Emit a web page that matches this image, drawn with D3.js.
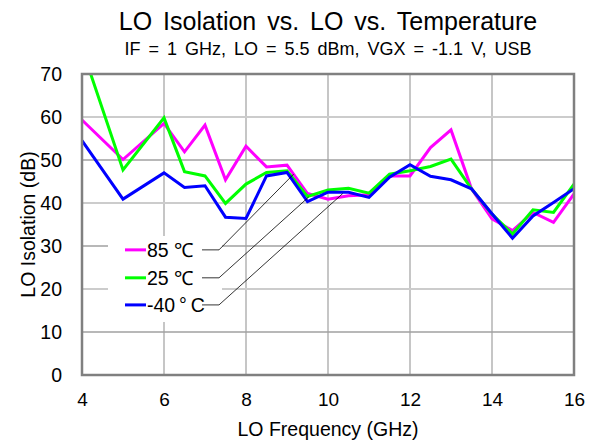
<!DOCTYPE html>
<html>
<head>
<meta charset="utf-8">
<script src="https://cdn.jsdelivr.net/npm/d3@7"></script>
<style>
  body { margin: 0; background: #fff; }
  svg { display: block; font-family: "Liberation Sans", Arial, Helvetica, sans-serif; }
</style>
</head>
<body>
<div id="chart"></div>
<script>
// LO frequency (GHz)
const freqs = [4, 5, 6, 6.5, 7, 7.5, 8, 8.5, 9, 9.5, 10, 10.5, 11, 11.5, 12, 12.5, 13, 13.5, 14, 14.5, 15, 15.5, 16];
// LO isolation (dB) per temperature
const iso85 = [59.3, 50.1, 58.5, 51.9, 58.1, 45.4, 53.2, 48.4, 48.8, 42.2, 40.9, 41.7, 41.9, 46.3, 46.3, 52.9, 57.0, 43.3, 36.3, 33.6, 37.8, 35.5, 42.1];
const iso25 = [76.0, 47.7, 59.8, 47.3, 46.3, 39.9, 44.4, 47.1, 47.5, 41.5, 43.0, 43.4, 42.3, 46.7, 47.5, 48.5, 50.2, 43.3, 37.4, 32.8, 38.4, 37.8, 44.4];
const isoM40 = [54.5, 40.9, 47.0, 43.6, 44.0, 36.7, 36.4, 46.3, 47.1, 40.3, 42.5, 42.5, 41.3, 46.0, 48.9, 46.2, 45.4, 43.3, 37.5, 31.8, 37.0, 40.1, 43.3];

const seriesNames = ['85 \u2103', '25 \u2103', '-40\u2009\u00b0\u2009C'];
const seriesColors = ['#ff00ff', '#00ff00', '#0000ff'];
// where each legend leader line points to (GHz, dB)
const leaderX = [9.16, 9.53, 10.36];
const leaderY = [46.7, 41.4, 42.2];

const xTicks = [4, 6, 8, 10, 12, 14, 16];
const yTicks = [0, 10, 20, 30, 40, 50, 60, 70];

const W = 594, H = 445;
const margin = { top: 74, right: 20, bottom: 70, left: 82 };
const width = W - margin.left - margin.right;
const height = H - margin.top - margin.bottom;

const svg = d3.select('#chart').append('svg')
    .attr('width', W)
    .attr('height', H);

const x = d3.scaleLinear().domain([4, 16]).range([0, width]);
const y = d3.scaleLinear().domain([0, 70]).range([height, 0]);

const g = svg.append('g')
    .attr('transform', `translate(${margin.left},${margin.top})`);

// title
svg.append('text')
    .attr('x', margin.left + width / 2)
    .attr('y', 30)
    .attr('text-anchor', 'middle')
    .style('font-size', '25px')
    .style('word-spacing', '4px')
    .text('LO Isolation vs. LO vs. Temperature');

svg.append('text')
    .attr('x', margin.left + width / 2)
    .attr('y', 55)
    .attr('text-anchor', 'middle')
    .style('font-size', '18px')
    .style('word-spacing', '3px')
    .text('IF = 1 GHz, LO = 5.5 dBm, VGX = -1.1 V, USB');

// gridlines
g.append('g')
    .selectAll('line')
    .data(xTicks.slice(1, -1))
    .join('line')
    .attr('x1', d => x(d)).attr('x2', d => x(d))
    .attr('y1', 0).attr('y2', height)
    .attr('stroke', '#a8a8a8')
    .attr('stroke-width', 1.3);

g.append('g')
    .selectAll('line')
    .data(yTicks.slice(1, -1))
    .join('line')
    .attr('x1', 0).attr('x2', width)
    .attr('y1', d => y(d)).attr('y2', d => y(d))
    .attr('stroke', d => d % 20 === 0 ? '#cccccc' : '#a0a0a0')
    .attr('stroke-width', d => d % 20 === 0 ? 2 : 1.3);

// axes (labels only)
const xAxis = g.append('g')
    .attr('transform', `translate(0,${height})`)
    .call(d3.axisBottom(x).tickValues(xTicks).tickSize(0).tickPadding(18).tickFormat(d3.format('d')));
xAxis.select('.domain').remove();
xAxis.selectAll('text').style('font-size', '19px').attr('fill', '#000');

const yAxis = g.append('g')
    .call(d3.axisLeft(y).tickValues(yTicks).tickSize(0).tickPadding(20).tickFormat(d3.format('d')));
yAxis.select('.domain').remove();
yAxis.selectAll('text').style('font-size', '19.5px').attr('fill', '#000');

svg.append('text')
    .attr('x', margin.left + width / 2)
    .attr('y', 436)
    .attr('text-anchor', 'middle')
    .style('font-size', '19.5px')
    .text('LO Frequency (GHz)');

svg.append('text')
    .attr('transform', `translate(35,${margin.top + height / 2}) rotate(-90)`)
    .attr('text-anchor', 'middle')
    .style('font-size', '19.5px')
    .text('LO Isolation (dB)');

// clip
svg.append('defs').append('clipPath').attr('id', 'plot-clip')
    .append('rect').attr('width', width).attr('height', height);

const series = [iso85, iso25, isoM40];
const line = d3.line()
    .x((d, i) => x(freqs[i]))
    .y(d => y(d));

const lines = g.append('g').attr('clip-path', 'url(#plot-clip)');
series.forEach((s, k) => {
    lines.append('path')
        .datum(s)
        .attr('d', line)
        .attr('fill', 'none')
        .attr('stroke', seriesColors[k])
        .attr('stroke-width', 3)
        .attr('stroke-linejoin', 'miter');
});

// legend box
const legend = g.append('g');
legend.append('rect')
    .attr('x', 108 - margin.left)
    .attr('y', 236 - margin.top)
    .attr('width', 114)
    .attr('height', 86)
    .attr('fill', '#fff');

const legY = [29.1, 22.6, 16.3];
seriesNames.forEach((name, k) => {
    const ly = y(legY[k]);
    legend.append('line')
        .attr('x1', 125 - margin.left).attr('x2', 146 - margin.left)
        .attr('y1', ly).attr('y2', ly)
        .attr('stroke', seriesColors[k])
        .attr('stroke-width', 3);
    legend.append('text')
        .attr('x', 147 - margin.left)
        .attr('y', ly)
        .attr('dy', '0.36em')
        .style('font-size', '19.5px')
        .text(name);
    // leader
    legend.append('polyline')
        .attr('points', [
            [202 - margin.left, ly],
            [219 - margin.left, ly],
            [x(leaderX[k]), y(leaderY[k])]
        ].map(p => p.join(',')).join(' '))
        .attr('fill', 'none')
        .attr('stroke', '#000')
        .attr('stroke-width', 0.8);
});

// frame
g.append('rect')
    .attr('width', width)
    .attr('height', height)
    .attr('fill', 'none')
    .attr('stroke', '#808080')
    .attr('stroke-width', 2.5);
</script>
</body>
</html>
